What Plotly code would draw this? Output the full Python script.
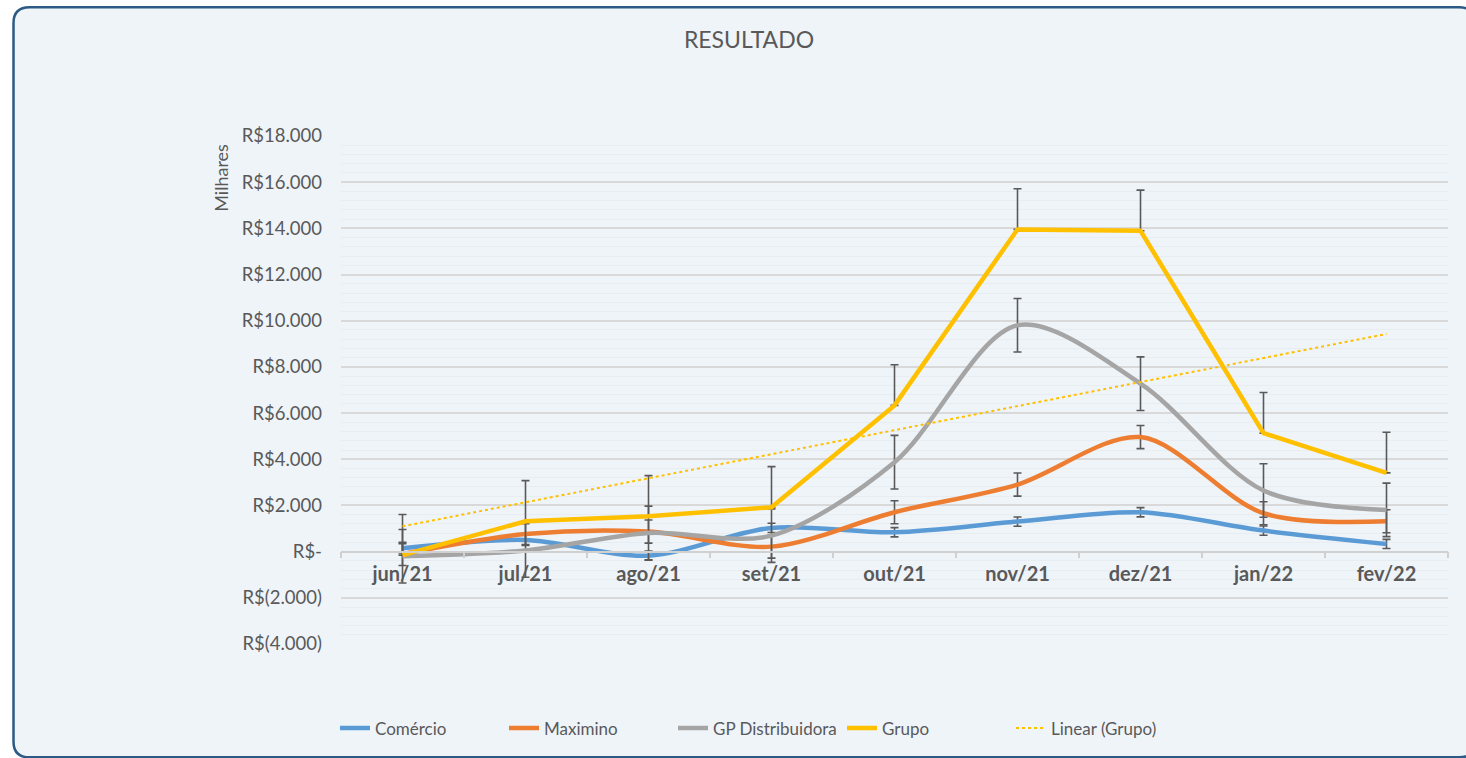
import numpy as np
import plotly.graph_objects as go

# ---- data (values in thousands of R$) ----
months = ["jun/21", "jul/21", "ago/21", "set/21", "out/21", "nov/21", "dez/21", "jan/22", "fev/22"]
comercio = [145, 507, -173, 1028, 838, 1301, 1706, 911, 333]
maximino = [-100, 766, 868, 217, 1706, 2906, 4960, 1662, 1315]
gp_distribuidora = [-200, 50, 810, 694, 3875, 9804, 7274, 2646, 1808]
grupo = [-150, 1315, 1530, 1920, 6333, 13955, 13896, 5133, 3413]

err_comercio = 200
err_maximino = 500
err_gp = 1160
err_grupo = 1760

ytick_vals = [-4000, -2000, 0, 2000, 4000, 6000, 8000, 10000, 12000, 14000, 16000, 18000]
ytick_text = ["R$(4.000)", "R$(2.000)", "R$-", "R$2.000", "R$4.000", "R$6.000", "R$8.000",
              "R$10.000", "R$12.000", "R$14.000", "R$16.000", "R$18.000"]

# linear trend of Grupo
xi = np.arange(1, len(grupo) + 1)
slope, intercept = np.polyfit(xi, grupo, 1)
trend = list(slope * xi + intercept)

FONT = "Lato"
GREY = "#595959"
ERR = "#595959"

fig = go.Figure()

def add_series(name, vals, color, err, shape, plus_only=False):
    ey = dict(type="constant", value=err, color=ERR, thickness=1.6, width=4)
    if plus_only:
        ey.update(symmetric=False, valueminus=0)
    fig.add_trace(go.Scatter(
        x=months, y=vals, name=name, mode="lines",
        line=dict(color=color, width=4.5, shape=shape, smoothing=0.9),
        error_y=ey,
    ))

add_series("Comércio", comercio, "#5B9BD5", err_comercio, "spline")
add_series("Maximino", maximino, "#ED7D31", err_maximino, "spline")
add_series("GP Distribuidora", gp_distribuidora, "#A5A5A5", err_gp, "spline")
add_series("Grupo", grupo, "#FFC000", err_grupo, "linear", plus_only=True)
fig.add_trace(go.Scatter(
    x=months, y=trend, name="Linear (Grupo)", mode="lines",
    line=dict(color="#FFC000", width=2, dash="dot"),
))

# layout geometry (pixels)
W, H = 1466, 758
L, R, T, B = 341, 18, 136, 111
pw, ph = W - L - R, H - T - B

def px_x(p):
    return (p - L) / pw

def px_y(p):
    return (H - B - p) / ph

# rounded border frame
x0, x1 = px_x(13.5), px_x(1475)
y0, y1 = px_y(761), px_y(6.5)
rx, ry = 16 / pw, 16 / ph
path = (f"M {x0+rx},{y1} L {x1-rx},{y1} Q {x1},{y1} {x1},{y1-ry} "
        f"L {x1},{y0+ry} Q {x1},{y0} {x1-rx},{y0} "
        f"L {x0+rx},{y0} Q {x0},{y0} {x0},{y0+ry} "
        f"L {x0},{y1-ry} Q {x0},{y1} {x0+rx},{y1} Z")

fig.update_layout(
    width=W, height=H,
    margin=dict(l=L, r=R, t=T, b=B),
    paper_bgcolor="white",
    plot_bgcolor="rgba(0,0,0,0)",
    font=dict(family=FONT, color=GREY),
    title=dict(text="RESULTADO", x=749 / W, y=1 - 40 / H, xref="container", yref="container",
               xanchor="center", yanchor="middle", font=dict(size=23, color=GREY, family=FONT)),
    shapes=[dict(type="path", path=path, xref="paper", yref="paper",
                 fillcolor="#EFF4F9", line=dict(color="#2C5A85", width=2.5), layer="below")],
    showlegend=True,
    legend=dict(orientation="h", x=px_x(340) - 5 / pw, y=px_y(732), xanchor="left", yanchor="middle",
                font=dict(size=17, color=GREY, family=FONT), bgcolor="rgba(0,0,0,0)",
                entrywidth=124, entrywidthmode="pixels", tracegroupgap=0),
    annotations=[dict(text="Milhares", x=px_x(221), y=px_y(178), xref="paper", yref="paper",
                      showarrow=False, textangle=-90, font=dict(size=18, color=GREY, family=FONT),
                      xanchor="center", yanchor="middle")],
)

fig.update_xaxes(
    type="category", range=[-0.5, len(months) - 0.5],
    anchor="free", position=(0 - (-4000)) / 22000,
    showline=True, linecolor="#D0D0D0", linewidth=1.5,
    ticks="outside", tickson="boundaries", ticklen=6, tickcolor="#D0D0D0", tickwidth=1.5,
    showgrid=False, ticklabelstandoff=5,
    tickfont=dict(size=20, color=GREY, family=FONT, weight="bold"),
)
fig.update_yaxes(
    range=[-4000, 18000], tickvals=ytick_vals, ticktext=ytick_text,
    showgrid=True, gridcolor="#D9D9D9", gridwidth=1.5, zeroline=False,
    ticklabelstandoff=18,
    tickfont=dict(size=18.5, color=GREY, family=FONT),
    minor=dict(dtick=400, showgrid=True, gridcolor="#E8EDF2", gridwidth=1),
)

fig.write_html("out.html", config={"displayModeBar": False},
               post_script="document.body.style.margin='0px';")
